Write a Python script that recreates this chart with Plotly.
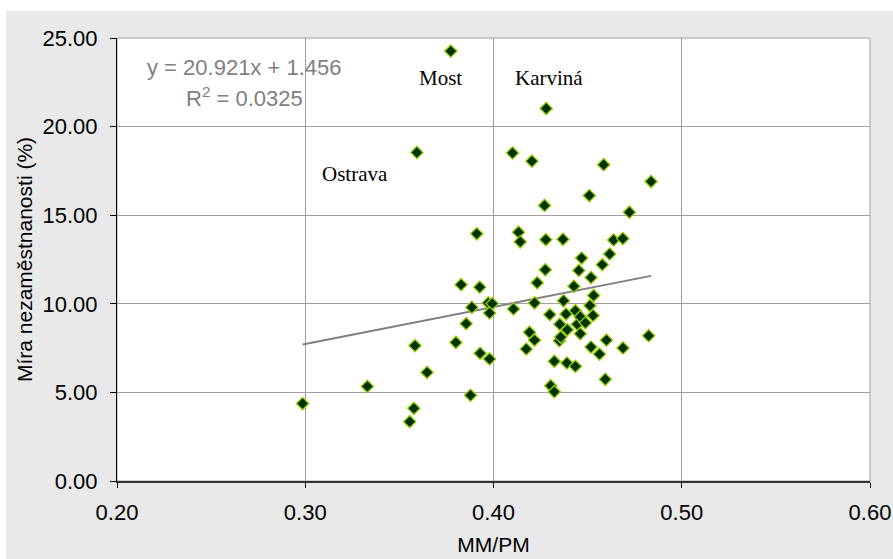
import plotly.graph_objects as go

# MM/PM ratio (x) and unemployment rate % (y)
mm_pm = [0.2986, 0.3330, 0.3555, 0.3577, 0.3583, 0.3593, 0.3647, 0.3773, 0.3800, 0.3828,
         0.3855, 0.3878, 0.3885, 0.3911, 0.3927, 0.3929, 0.3972, 0.3993, 0.3979, 0.3979,
         0.4101, 0.4106, 0.4133, 0.4142, 0.4174, 0.4191, 0.4204, 0.4218, 0.4218, 0.4232,
         0.4271, 0.4275, 0.4278, 0.4280, 0.4299, 0.4304, 0.4323, 0.4323, 0.4350, 0.4357,
         0.4352, 0.4369, 0.4372, 0.4385, 0.4390, 0.4392, 0.4427, 0.4435, 0.4435, 0.4445,
         0.4453, 0.4461, 0.4461, 0.4468, 0.4488, 0.4509, 0.4512, 0.4518, 0.4518, 0.4529,
         0.4532, 0.4563, 0.4578, 0.4585, 0.4594, 0.4600, 0.4617, 0.4638, 0.4687, 0.4688,
         0.4722, 0.4824, 0.4837]
unemployment = [4.37, 5.34, 3.35, 4.10, 7.64, 18.54, 6.13, 24.26, 7.82, 11.08,
                8.88, 4.84, 9.80, 13.95, 10.94, 7.21, 10.05, 10.01, 9.48, 6.89,
                18.51, 9.71, 14.04, 13.50, 7.45, 8.39, 18.05, 10.05, 7.95, 11.19,
                15.55, 11.92, 13.62, 21.02, 9.39, 5.38, 5.04, 6.76, 7.92, 8.12,
                8.85, 13.64, 10.17, 9.42, 6.66, 8.54, 10.99, 9.61, 6.47, 8.85,
                11.88, 9.27, 8.31, 12.58, 8.93, 16.11, 9.90, 11.48, 7.56, 9.34,
                10.47, 7.16, 12.21, 17.85, 5.74, 7.95, 12.81, 13.60, 13.68, 7.51,
                15.17, 8.20, 16.90]

# Linear trend as printed on the chart
slope = 20.921
intercept = 1.456
eq_text = "y = 20.921x + 1.456"
r2_text = "R<sup>2</sup> = 0.0325"

# City labels
city_names = ["Most", "Karviná", "Ostrava"]
city_x = [0.3717, 0.4294, 0.3263]
city_y = [22.75, 22.74, 17.34]

x_ticks = [0.2, 0.3, 0.4, 0.5, 0.6]
y_ticks = [0, 5, 10, 15, 20, 25]

FONT = "Liberation Sans, Arial, sans-serif"

x_min, x_max = min(mm_pm), max(mm_pm)
trend_x = [x_min, x_max]
trend_y = [slope * v + intercept for v in trend_x]

fig = go.Figure()
fig.add_trace(go.Scatter(
    x=trend_x, y=trend_y, mode="lines",
    line=dict(color="#808080", width=2), hoverinfo="skip", showlegend=False))
fig.add_trace(go.Scatter(
    x=mm_pm, y=unemployment, mode="markers",
    marker=dict(symbol="diamond", size=9.5, color="#003300",
                line=dict(color="#99CC00", width=1.3)),
    showlegend=False))

# gray chart background with white plot area
fig.add_shape(type="rect", xref="paper", yref="paper",
              x0=(6 - 117) / 753, x1=(900 - 117) / 753,
              y0=-(565 - 481) / 443, y1=(481 - 11) / 443,
              fillcolor="#E9E9E9", line=dict(width=0), layer="below")
fig.add_shape(type="rect", xref="paper", yref="paper", x0=0, x1=1, y0=0, y1=1,
              fillcolor="white", line=dict(color="#A0A0A0", width=1), layer="below")

for name, cx, cy in zip(city_names, city_x, city_y):
    fig.add_annotation(x=cx, y=cy, text=name, showarrow=False,
                       font=dict(family="Liberation Serif, Times New Roman, serif",
                                 size=21, color="black"))

fig.add_annotation(x=0.2677, y=23.34, text=eq_text, showarrow=False,
                   font=dict(family=FONT, size=22, color="#808080"))
fig.add_annotation(x=0.2677, y=21.65, text=r2_text, showarrow=False,
                   font=dict(family=FONT, size=22, color="#808080"))

fig.update_xaxes(range=[0.2, 0.6], tickvals=x_ticks, tickformat=".2f",
                 showgrid=True, gridcolor="#A0A0A0", gridwidth=1,
                 showline=True, linecolor="#333333", linewidth=2,
                 ticks="outside", ticklen=5, tickcolor="black",
                 ticklabelstandoff=6, zeroline=False,
                 tickfont=dict(family=FONT, size=22, color="black"),
                 title=dict(text="MM/PM", font=dict(family=FONT, size=21, color="black"),
                            standoff=13))
fig.update_yaxes(range=[0, 25], tickvals=y_ticks, tickformat=".2f",
                 showgrid=True, gridcolor="#A0A0A0", gridwidth=1,
                 showline=True, linecolor="black", linewidth=1,
                 ticks="outside", ticklen=6, tickcolor="black",
                 ticklabelstandoff=8, zeroline=False,
                 tickfont=dict(family=FONT, size=22, color="black"),
                 title=dict(text="Míra nezaměstnanosti (%)",
                            font=dict(family=FONT, size=21, color="black"),
                            standoff=4))

fig.update_layout(
    width=893, height=559,
    margin=dict(l=117, r=23, t=38, b=78, autoexpand=False),
    paper_bgcolor="white", plot_bgcolor="white",
    showlegend=False,
)

fig.write_html("out.html", config={"displayModeBar": False},
               post_script="document.body.style.margin='0';document.body.style.overflow='hidden';")
